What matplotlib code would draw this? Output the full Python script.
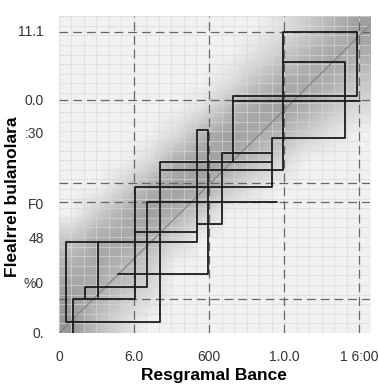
import numpy as np
import matplotlib
matplotlib.use("Agg")
import matplotlib.pyplot as plt
from matplotlib.colors import LinearSegmentedColormap

plt.rcParams['font.family'] = ['Liberation Sans', 'DejaVu Sans']

# axis extents (data units)
x_max = 4.147
y_max = 4.227

# tick labels as printed on the chart
x_ticks = [0, 1, 2, 3, 4]
x_labels = ["0", "6.0", "600", "1.0.0", "1 6:00"]
y_ticks = [4.04, 3.11, 2.67, 1.73, 1.27, 0.68, 0.01]
y_labels = ["11.1", "0.0", ":30", "F0", "48", "%0", "0."]

# dashed reference lines
v_dashed = [1, 2, 3, 4]
h_dashed = [4.01, 3.11, 2.0, 1.75, 0.45]

# density of the background band (rows top -> bottom, cols left -> right)
density = np.array([
    [0, 0, 0, 0, 0, 0, 0, 0, .10, .25, .40, .55],
    [0, 0, 0, 0, 0, 0, 0, .10, .25, .40, .50, .45],
    [0, 0, 0, 0, 0, 0, .10, .30, .45, .50, .45, .30],
    [0, 0, 0, 0, 0, .10, .35, .50, .55, .45, .30, .15],
    [0, 0, 0, 0, .15, .40, .55, .50, .40, .25, .10, 0],
    [0, 0, 0, .15, .45, .55, .50, .35, .20, 0, 0, 0],
    [0, 0, .20, .45, .55, .50, .30, .10, 0, 0, 0, 0],
    [0, .25, .45, .55, .45, .25, 0, 0, 0, 0, 0, 0],
    [.30, .50, .50, .40, .20, 0, 0, 0, 0, 0, 0, 0],
    [.45, .50, .40, .25, 0, 0, 0, 0, 0, 0, 0, 0],
    [.55, .45, .30, .15, 0, 0, 0, 0, 0, 0, 0, 0],
    [.60, .35, .15, 0, 0, 0, 0, 0, 0, 0, 0, 0],
])

# stepped outlines
steps = [
    ([2.32, 2.32, 3.97, 3.97, 2.99, 2.99, 1.35],
     [2.28, 3.16, 3.16, 4.02, 4.02, 2.17, 2.17]),
    ([2.84, 1.35, 1.35, 0.09, 0.09, 1.84, 1.84, 1.99, 1.99, 0.79],
     [2.28, 2.28, 0.15, 0.15, 1.21, 1.21, 2.71, 2.71, 0.79, 0.79]),
    ([2.32, 4.01], [3.09, 3.09]),
    ([2.99, 3.81, 3.81, 2.84, 2.84, 1.01, 1.01, 0.19, 0.19],
     [3.61, 3.61, 2.60, 2.60, 1.95, 1.95, 0.45, 0.45, 0.0]),
    ([0.52, 0.52], [0.48, 1.21]),
    ([0.35, 0.35, 1.17, 1.17, 2.91], [0.45, 0.62, 0.62, 1.75, 1.75]),
    ([1.84, 2.17, 2.17, 2.84], [1.45, 1.45, 2.40, 2.40]),
    ([1.01, 1.84], [1.35, 1.35]),
]

fig = plt.figure(figsize=(3.78, 3.90), dpi=100)
ax = fig.add_axes([0.156, 0.146, 0.823, 0.813])
ax.set_facecolor("#f1f1f1")

cmap = LinearSegmentedColormap.from_list("band", ["#f1f1f1", "#5e5e5e"])
ax.imshow(density, cmap=cmap, vmin=0, vmax=1, extent=[0, x_max, 0, y_max],
          interpolation="bilinear", aspect="auto", zorder=0)

# fine grid
for xv in np.arange(0, x_max, 1 / 6):
    ax.axvline(xv, color="#d8d8d8", lw=0.5, alpha=0.9, zorder=1)
for yv in np.arange(0, y_max, 0.128):
    ax.axhline(yv, color="#d8d8d8", lw=0.5, alpha=0.9, zorder=1)

for xv in v_dashed:
    ax.axvline(xv, color="#666666", lw=0.9, ls=(0, (7, 4)), zorder=1.5)
for yv in h_dashed:
    ax.axhline(yv, color="#666666", lw=0.9, ls=(0, (7, 4)), zorder=1.5)

ax.plot([0, x_max], [0, 4.107], color="#808080", lw=0.8, zorder=2)

for xs, ys in steps:
    ax.plot(xs, ys, color="#1c1c1c", lw=1.3, solid_joinstyle="round",
            solid_capstyle="round", zorder=3)

ax.set_xlim(0, x_max)
ax.set_ylim(0, y_max)
ax.set_xticks(x_ticks)
ax.set_xticklabels(x_labels)
ax.set_yticks(y_ticks)
ax.set_yticklabels(y_labels)
ax.tick_params(length=0, labelsize=10, labelcolor="#333333")
ax.tick_params(axis="x", pad=12)
ax.tick_params(axis="y", pad=11)
for s in ax.spines.values():
    s.set_visible(False)

fig.text(0.032, 0.495, "Flealrrel bulanolara", rotation=90, fontsize=12.5,
         fontweight="bold", ha="center", va="center")
fig.text(0.566, 0.038, "Resgramal Bance", fontsize=12.5,
         fontweight="bold", ha="center", va="center")

fig.savefig("out.png", dpi=100)
